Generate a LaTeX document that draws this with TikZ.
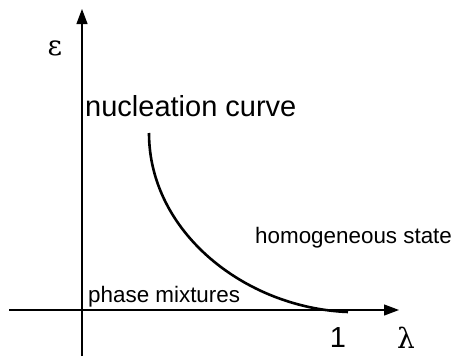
\documentclass[tikz,border=0pt]{standalone}
\usepackage{fontspec}
\setmainfont{Liberation Sans}
\newfontfamily\greekfont{DejaVu Serif}
\usetikzlibrary{arrows.meta, positioning}

\tikzset{
  axis/.style={line width=1.2pt, -{Triangle[length=15pt, width=11pt]}},
  curve/.style={line width=2.6pt},
  lab/.style={inner sep=0pt, anchor=base west, font=\fontsize{22.4}{24}\selectfont},
  biglab/.style={inner sep=0pt, anchor=base, font=\fontsize{29}{32}\selectfont},
  greeklab/.style={inner sep=0pt, anchor=base, font=\fontsize{28}{30}\greekfont}
}

\begin{document}
\begin{tikzpicture}[x=1pt, y=-1pt]
  \useasboundingbox (0,0) rectangle (454,356);

  % axes
  \coordinate (xstart) at (9,310);
  \coordinate (xend) at (399,310);
  \coordinate (ystart) at (82,356);
  \coordinate (yend) at (82,9);
  \draw[axis] (xstart) -- (xend);
  \draw[axis] (ystart) -- (yend);

  % nucleation curve
  \coordinate (ctop) at (149,133);
  \coordinate (cend) at (348,312);
  \draw[curve] (ctop) .. controls (149,232) and (245,308) .. (cend);

  % labels
  \node[greeklab] (eps) at (55,55) {ε};
  \node[greeklab] (lam) at (406,348) {λ};
  \node[biglab] (one) at (338,347) {1};
  \node[lab, font=\fontsize{29}{32}\selectfont] (nuc) at (85,116) {nucleation curve};
  \node[lab] (hom) at (255,243) {homogeneous state};
  \node[lab] (pha) at (88,302) {phase mixtures};
\end{tikzpicture}
\end{document}
